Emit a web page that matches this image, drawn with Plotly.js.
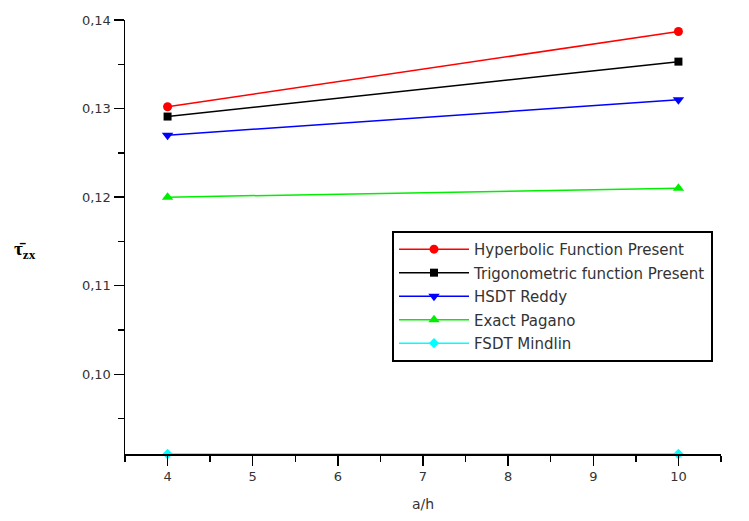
<!DOCTYPE html>
<html>
<head>
<meta charset="utf-8">
<script src="https://cdn.plot.ly/plotly-3.0.1.min.js"></script>
<style>html,body{margin:0;padding:0;background:#fff;}#chart{width:749px;height:521px;}</style>
</head>
<body>
<div id="chart"></div>
<script>
const ratios = [4, 10];
const seriesNames = ["Hyperbolic Function Present", "Trigonometric function Present", "HSDT Reddy", "Exact Pagano", "FSDT Mindlin"];
const hyperbolic = [0.1302, 0.1387];
const trigonometric = [0.1291, 0.1353];
const reddy = [0.1270, 0.1310];
const pagano = [0.1200, 0.1210];
const mindlin = [0.0910, 0.0910];

const colors = ["#ff0000", "#000000", "#0000ff", "#00ee00", "#00ffff"];
const symbols = ["circle", "square", "triangle-down", "triangle-up", "diamond"];
const sizes = [9, 8, 10, 10, 8];
const values = [hyperbolic, trigonometric, reddy, pagano, mindlin];

const traces = values.map((v, i) => ({
  x: ratios, y: v, name: seriesNames[i], legendgroup: 'g' + i, type: 'scatter', mode: 'lines+markers',
  line: {color: colors[i], width: 1.5},
  marker: {color: colors[i], symbol: symbols[i], size: sizes[i]},
  cliponaxis: false
}));

const tickFont = {family: 'DejaVu Sans, sans-serif', size: 13, color: '#333'};
const layout = {
  width: 749, height: 521,
  margin: {l: 125, r: 28, t: 20, b: 67},
  paper_bgcolor: '#fff', plot_bgcolor: '#fff',
  separators: ',.',
  showlegend: true,
  legend: {
    x: 0.448, y: 0.514, xanchor: 'left', yanchor: 'top',
    bgcolor: '#fff', bordercolor: '#000', borderwidth: 2,
    font: {family: 'DejaVu Sans, sans-serif', size: 15, color: '#333'},
    tracegroupgap: 1, itemwidth: 70
  },
  xaxis: {
    range: [3.5, 10.5], tick0: 4, dtick: 1, showgrid: false, zeroline: false,
    showline: true, linecolor: '#000', linewidth: 1.5,
    ticks: 'outside', ticklen: 10, tickwidth: 1.5, tickcolor: '#000',
    minor: {dtick: 0.5, tick0: 4, ticks: 'outside', ticklen: 6, tickwidth: 1.5, tickcolor: '#000', showgrid: false},
    tickfont: tickFont,
    title: {text: 'a/h', font: {family: 'DejaVu Sans, sans-serif', size: 14, color: '#333'}, standoff: 16}
  },
  yaxis: {
    range: [0.091, 0.14], tick0: 0.1, dtick: 0.01, tickformat: '.2f', showgrid: false, zeroline: false,
    showline: true, linecolor: '#000', linewidth: 1.5,
    ticks: 'outside', ticklen: 10, tickwidth: 1.5, tickcolor: '#000',
    minor: {dtick: 0.005, tick0: 0.1, ticks: 'outside', ticklen: 6, tickwidth: 1.5, tickcolor: '#000', showgrid: false},
    tickfont: tickFont
  },
  annotations: [{
    xref: 'paper', yref: 'paper', x: -0.19, y: 0.47, xanchor: 'left', yanchor: 'middle',
    showarrow: false,
    text: '<b>τ̄<sub>zx</sub></b>',
    font: {family: 'Liberation Serif, serif', size: 19, color: '#000'}
  }]
};

Plotly.newPlot('chart', traces, layout, {displayModeBar: false, staticPlot: true});
</script>
</body>
</html>
